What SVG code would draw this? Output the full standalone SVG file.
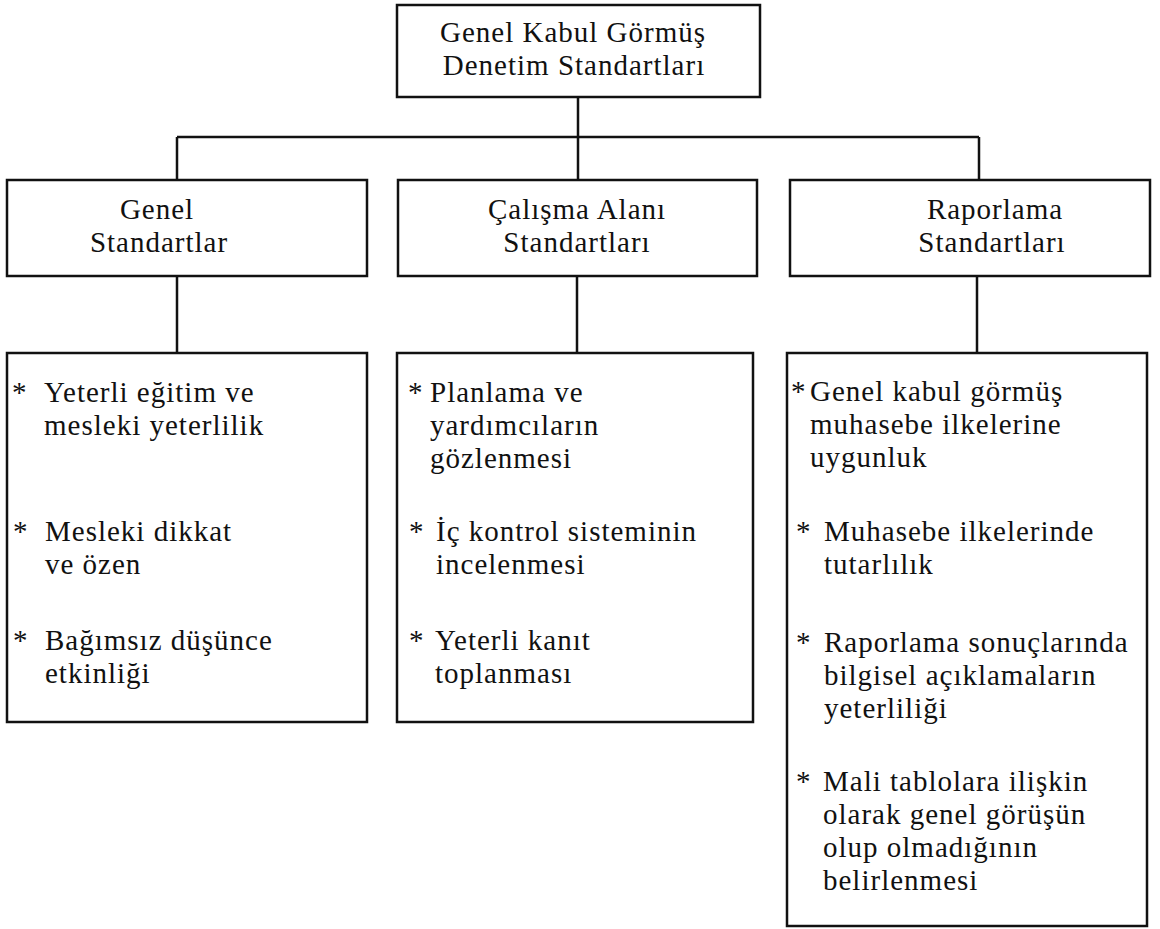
<svg xmlns="http://www.w3.org/2000/svg" width="1160" height="929" viewBox="0 0 1160 929">
<style>
.box{fill:#fff;stroke:#111;stroke-width:2.5}
.ln{fill:none;stroke:#111;stroke-width:2.5}
text{font-family:"Liberation Serif","Times New Roman",serif;font-size:29px;letter-spacing:1px;fill:#111}
.c{text-anchor:middle}
</style>
<rect width="1160" height="929" fill="#fff"/>
<g id="connectors">
<path class="ln" d="M578 97 V180 M177 137 H979 M177 137 V180 M979 137 V180"/>
<path class="ln" d="M177 276 V353 M577 276 V353 M977 276 V353"/>
</g>
<g id="root">
<rect class="box" x="397" y="5" width="363" height="92"/>
<text class="c"><tspan x="573" y="42">Genel Kabul Görmüş</tspan><tspan x="574" y="75">Denetim Standartları</tspan></text>
</g>
<g id="genel">
<rect class="box" x="7" y="180" width="360" height="96"/>
<text class="c"><tspan x="157" y="219">Genel</tspan><tspan x="159" y="252">Standartlar</tspan></text>
</g>
<g id="calisma">
<rect class="box" x="398" y="180" width="359" height="96"/>
<text class="c"><tspan x="577" y="219">Çalışma Alanı</tspan><tspan x="577" y="252">Standartları</tspan></text>
</g>
<g id="raporlama">
<rect class="box" x="790" y="180" width="360" height="96"/>
<text class="c"><tspan x="995" y="219">Raporlama</tspan><tspan x="992" y="252">Standartları</tspan></text>
</g>
<g id="genel-items">
<rect class="box" x="7" y="353" width="360" height="369"/>
<text><tspan x="12" y="402">*</tspan><tspan x="44" y="402">Yeterli eğitim ve</tspan><tspan x="44" y="435">mesleki yeterlilik</tspan></text>
<text><tspan x="13" y="541">*</tspan><tspan x="45" y="541">Mesleki dikkat</tspan><tspan x="45" y="574">ve özen</tspan></text>
<text><tspan x="13" y="650">*</tspan><tspan x="45" y="650">Bağımsız düşünce</tspan><tspan x="45" y="683">etkinliği</tspan></text>
</g>
<g id="calisma-items">
<rect class="box" x="397" y="353" width="356" height="369"/>
<text><tspan x="408" y="402">*</tspan><tspan x="430" y="402">Planlama ve</tspan><tspan x="430" y="435">yardımcıların</tspan><tspan x="430" y="468">gözlenmesi</tspan></text>
<text><tspan x="409" y="541">*</tspan><tspan x="436" y="541">İç kontrol sisteminin</tspan><tspan x="436" y="574">incelenmesi</tspan></text>
<text><tspan x="409" y="650">*</tspan><tspan x="435" y="650">Yeterli kanıt</tspan><tspan x="435" y="683">toplanması</tspan></text>
</g>
<g id="raporlama-items">
<rect class="box" x="787" y="353" width="360" height="573"/>
<text><tspan x="791" y="401">*</tspan><tspan x="810" y="401">Genel kabul görmüş</tspan><tspan x="810" y="434">muhasebe ilkelerine</tspan><tspan x="810" y="467">uygunluk</tspan></text>
<text><tspan x="796" y="541">*</tspan><tspan x="824" y="541">Muhasebe ilkelerinde</tspan><tspan x="824" y="574">tutarlılık</tspan></text>
<text><tspan x="796" y="652">*</tspan><tspan x="824" y="652">Raporlama sonuçlarında</tspan><tspan x="824" y="685">bilgisel açıklamaların</tspan><tspan x="824" y="718">yeterliliği</tspan></text>
<text><tspan x="796" y="791">*</tspan><tspan x="823" y="791">Mali tablolara ilişkin</tspan><tspan x="823" y="824">olarak genel görüşün</tspan><tspan x="823" y="857">olup olmadığının</tspan><tspan x="823" y="890">belirlenmesi</tspan></text>
</g>
</svg>
